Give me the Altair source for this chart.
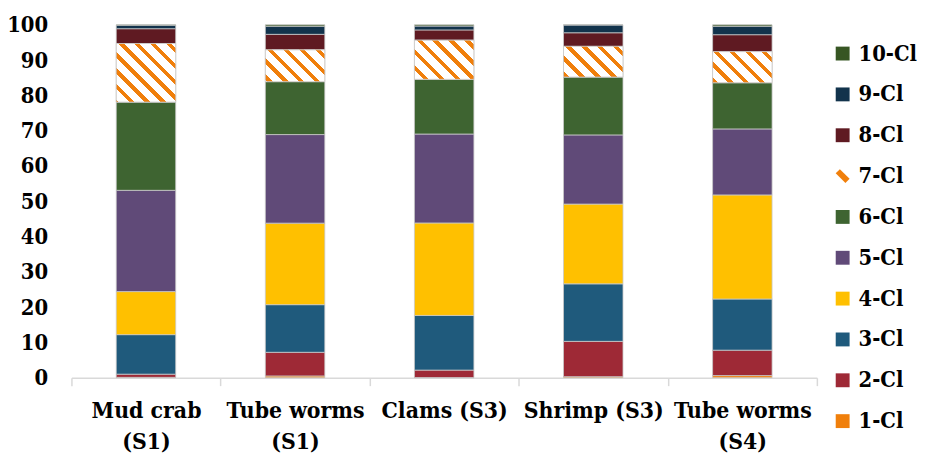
import math
import altair as alt
import pandas as pd

# ---- data ----
samples = ["Mud crab\n(S1)", "Tube worms\n(S1)", "Clams (S3)", "Shrimp (S3)", "Tube worms\n(S4)"]
congeners = ["1-Cl", "2-Cl", "3-Cl", "4-Cl", "5-Cl", "6-Cl", "7-Cl", "8-Cl", "9-Cl", "10-Cl"]
mud_crab_s1 = [0.1, 0.9, 11.2, 12.2, 28.7, 25.0, 16.6, 4.2, 1.0, 0.1]
tube_worms_s1 = [0.5, 6.7, 13.5, 23.1, 25.1, 15.0, 9.0, 4.4, 2.3, 0.4]
clams_s3 = [0.05, 2.1, 15.5, 26.2, 25.2, 15.5, 11.1, 2.9, 1.1, 0.35]
shrimp_s3 = [0.3, 10.0, 16.3, 22.6, 19.6, 16.4, 8.7, 3.85, 2.2, 0.05]
tube_worms_s4 = [0.6, 7.2, 14.5, 29.5, 18.7, 13.1, 8.8, 4.8, 2.4, 0.4]
series = [mud_crab_s1, tube_worms_s1, clams_s3, shrimp_s3, tube_worms_s4]
y_ticks = list(range(0, 101, 10))

colors = {
    "1-Cl": "#F07F0B", "2-Cl": "#9E2936", "3-Cl": "#1F5A7C", "4-Cl": "#FFC000",
    "5-Cl": "#604A78", "6-Cl": "#3E6431", "7-Cl": "#F07F0B", "8-Cl": "#5F1A22",
    "9-Cl": "#12334C", "10-Cl": "#375623",
}
legend_order = congeners[::-1]

rows = []
for si, (s, vals) in enumerate(zip(samples, series)):
    for ci, (c, v) in enumerate(zip(congeners, vals)):
        rows.append({"sample": s, "si": si, "cl": c, "idx": ci, "value": v})
df = pd.DataFrame(rows)

# ---- layout ----
W, H = 752, 356
BAR = 60
FONT = "DejaVu Serif Condensed, DejaVu Serif"
FS = 22
FS_X = 23
ORANGE = colors["7-Cl"]


def stripe_gradient(si, vals):
    """Diagonal hatch made of hard gradient stops (style only)."""
    h = max(vals[6] * H / 100.0, 1.0)
    w = float(BAR)
    k = (w + h) / (w * w + h * h)
    step = W / len(samples)
    xl = 72 + step * si + step / 2 - w / 2
    cum_top = sum(vals[:7])
    yt = 23.3 + (100 - cum_top) * H / 100.0
    shift = xl - yt - 13  # global anchoring of the hatch
    P, on = 16.0, 5.5
    L = w + h
    stops = []
    m0 = math.floor((-h + shift) / P) - 1
    m1 = math.ceil((w + shift) / P) + 1
    for m in range(m0, m1 + 1):
        a = m * P - shift
        for (p0, p1, col) in ((a, a + on, ORANGE), (a + on, a + P, "#FFFFFF")):
            q0, q1 = max(p0, -h), min(p1, w)
            if q1 <= q0:
                continue
            stops.append({"offset": (q0 + h) / L, "color": col})
            stops.append({"offset": (q1 + h) / L, "color": col})
    return {"gradient": "linear", "x1": 0, "y1": 1, "x2": k * w, "y2": 1 - k * h, "stops": stops}


base = alt.Chart(df).transform_stack(
    stack="value", groupby=["sample"], as_=["v0", "v1"],
    sort=[alt.SortField("idx", order="ascending")],
)

x_enc = alt.X(
    "sample:N", sort=samples, title=None,
    scale=alt.Scale(paddingInner=0, paddingOuter=0),
    axis=alt.Axis(
        labelExpr="split(datum.label, '\\n')", labelAngle=0, labelFont=FONT,
        labelFontSize=FS_X, labelFontWeight="bold", labelColor="#000000",
        labelLineHeight=31.5, labelPadding=14, labelBaseline="top", labelOverlap=False,
        domainColor="#D9D9D9", domainWidth=1.5, tickColor="#D9D9D9", tickWidth=1.5,
        tickSize=8, tickBand="extent", grid=False,
    ),
)
y_enc = alt.Y(
    "v0:Q", title=None, scale=alt.Scale(domain=[0, 100], nice=False),
    axis=alt.Axis(
        values=y_ticks, tickCount=11, labelFont=FONT, labelFontSize=FS, labelFontWeight="bold",
        labelColor="#000000", domain=False, ticks=False, grid=False, labelPadding=24,
        labelOverlap=False,
    ),
)

hatch_path = "M -1 -0.4 L -0.4 -1 L 1 0.4 L 0.4 1 Z"
shapes = [hatch_path if c == "7-Cl" else "square" for c in legend_order]
leg = alt.Legend(
    title=None, orient="none", legendX=767, legendY=18, padding=0,
    labelFont=FONT, labelFontSize=FS, labelFontWeight="bold", labelColor="#000000",
    symbolSize=196, symbolStrokeWidth=0, labelOffset=5, rowPadding=19.2,
)
color_scale = alt.Scale(domain=legend_order, range=[colors[c] for c in legend_order])

bars = base.mark_bar(size=BAR, stroke="#C9C9C9", strokeWidth=0.8).encode(
    x=x_enc, y=y_enc, y2="v1:Q",
    color=alt.Color("cl:N", scale=color_scale, legend=leg),
)

hatch_layers = []
for si, vals in enumerate(series):
    hatch_layers.append(
        base.transform_filter((alt.datum.si == si) & (alt.datum.cl == "7-Cl"))
        .mark_bar(size=BAR, fill=stripe_gradient(si, vals), stroke="#C9C9C9", strokeWidth=0.8)
        .encode(x=alt.X("sample:N", sort=samples), y=alt.Y("v0:Q"), y2="v1:Q")
    )

legend_layer = alt.Chart(df).transform_filter("false").mark_point(filled=True, opacity=1).encode(
    color=alt.Color("cl:N", scale=color_scale, legend=leg),
    shape=alt.Shape("cl:N", scale=alt.Scale(domain=legend_order, range=shapes), legend=leg),
)

chart = alt.layer(bars, *hatch_layers, legend_layer).properties(
    width=W, height=H, autosize="none", background="#FFFFFF",
    padding={"left": 64, "top": 15, "right": 101, "bottom": 75},
).configure_view(stroke=None).configure_axis(labelOverlap=False)

chart.save("out.html", embed_options={"renderer": "svg", "actions": False})
